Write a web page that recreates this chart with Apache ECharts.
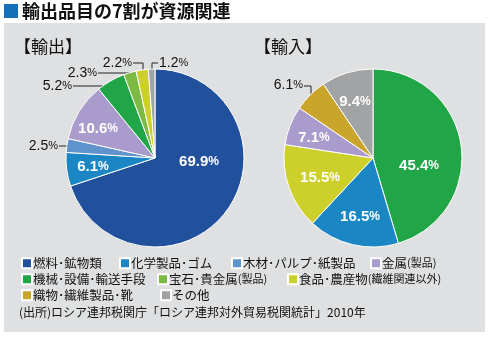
<!DOCTYPE html>
<html><head><meta charset="utf-8">
<script src="https://cdn.jsdelivr.net/npm/echarts@6/dist/echarts.min.js"></script>
<style>html,body{margin:0;padding:0;background:#fff}#c{width:490px;height:339px}</style>
</head><body><div id="c"></div>
<script>
// ---- data ----
const categories = ['燃料･鉱物類','化学製品･ゴム','木材･パルプ･紙製品','金属(製品)','機械･設備･輸送手段','宝石･貴金属(製品)','食品･農産物(繊維関連以外)','織物･繊維製品･靴','その他'];
const exportNames = ['燃料･鉱物類','化学製品･ゴム','木材･パルプ･紙製品','金属(製品)','機械･設備･輸送手段','宝石･貴金属(製品)','食品･農産物(繊維関連以外)','その他'];
const exportValues = [69.9, 6.1, 2.5, 10.6, 5.2, 2.3, 2.2, 1.2];
const importNames = ['機械･設備･輸送手段','化学製品･ゴム','食品･農産物(繊維関連以外)','金属(製品)','織物･繊維製品･靴','その他'];
const importValues = [45.4, 16.5, 15.5, 7.1, 6.1, 9.4];
const titleText = '輸出品目の7割が資源関連';
const exportTitle = '【輸出】';
const importTitle = '【輸入】';
const sourceText = '(出所)ロシア連邦税関庁「ロシア連邦対外貿易税関統計」2010年';

// ---- styles / layout ----
const colors = {
  '燃料･鉱物類':'#21509c','化学製品･ゴム':'#1a87c4','木材･パルプ･紙製品':'#5f93cc','金属(製品)':'#a99bcc',
  '機械･設備･輸送手段':'#20a547','宝石･貴金属(製品)':'#7cba44','食品･農産物(繊維関連以外)':'#cdd02a',
  '織物･繊維製品･靴':'#c9a52b','その他':'#a2a3a4'
};
const JP = '"Noto Sans CJK JP", sans-serif';
const NUM = '"Liberation Sans", Arial, sans-serif';
const exportLabelPos = [
  {x:199,y:162},
  {x:93,y:167},
  {x:58,y:146,align:'right',line:[[59,146],[69,146],[69,146]]},
  {x:98,y:129},
  {x:72,y:86,align:'right',line:[[73,86],[103,86],[103,86]]},
  {x:97,y:73,align:'right',line:[[98,73],[130,73],[130,76]]},
  {x:132,y:63,align:'right',line:[[133,63],[143,63],[143,70]]},
  {x:159,y:63,align:'left',line:[[158,63],[152,63],[152,70]]}
];
const importLabelPos = [
  {x:419,y:166},
  {x:360,y:217},
  {x:320,y:178},
  {x:314,y:138},
  {x:303,y:85,align:'right',line:[[304,86],[311,86],[311,95]]},
  {x:355,y:102}
];
const labelPos = [exportLabelPos, importLabelPos];
const legendPos = [
  [21,257],[119,257],[231,257],[370,257],
  [21,273],[157,273],[287,273],
  [21,289],[160,289]
];

function buildData(names, values, pos) {
  return names.map((n, i) => ({
    name: n, value: values[i],
    itemStyle: {color: colors[n]},
    label: {position: pos[i].line ? 'outside' : 'inside'},
    labelLine: {show: !!pos[i].line}
  }));
}
function pieSeries(names, values, pos, cx, si) {
  return {
    type: 'pie', center: [cx, 158], radius: 89, startAngle: 90, clockwise: true,
    avoidLabelOverlap: false, animation: false,
    itemStyle: {borderColor: '#ffffff', borderWidth: 1},
    emphasis: {disabled: true},
    label: {
      show: true,
      formatter: p => pos[p.dataIndex].line
        ? `{ov|${p.value.toFixed(1)}}{op|%}`
        : `{iv|${p.value.toFixed(1)}}{ip|%}`,
      rich: {
        iv: {fontFamily: NUM, fontWeight: 'bold', fontSize: 15, color: '#fff'},
        ip: {fontFamily: NUM, fontWeight: 'bold', fontSize: 12, color: '#fff'},
        ov: {fontFamily: NUM, fontSize: 14, color: '#111'},
        op: {fontFamily: NUM, fontSize: 11, color: '#111'}
      }
    },
    labelLine: {show: true, length: 5, length2: 5, lineStyle: {color: '#222', width: 1}},
    labelLayout: params => {
      const p = labelPos[si][params.dataIndex];
      const r = {x: p.x, y: p.y, align: p.align || 'center', verticalAlign: 'middle'};
      if (p.line) r.labelLinePoints = p.line;
      return r;
    },
    data: buildData(names, values, pos)
  };
}

const legends = categories.map((c, i) => ({
  data: [c], left: legendPos[i][0], top: legendPos[i][1], padding: 0,
  itemWidth: 10, itemHeight: 10, itemGap: 0, icon: 'rect', selectedMode: false,
  formatter: name => {
    const k = name.indexOf('(');
    return k >= 0 ? `{a|${name.slice(0, k)}}{b|${name.slice(k)}}` : `{a|${name}}`;
  },
  textStyle: {
    color: '#111', fontFamily: JP, fontSize: 12.5, lineHeight: 12, padding: [0, 0, 0, -4],
    rich: {a: {fontFamily: JP, fontSize: 12.5, color: '#111'}, b: {fontFamily: JP, fontSize: 11, color: '#111'}}
  }
}));

const chart = echarts.init(document.getElementById('c'), null, {renderer: 'canvas'});
chart.setOption({
  backgroundColor: '#ffffff',
  animation: false,
  graphic: [
    {type: 'rect', z: -10, shape: {x: 4, y: 23, width: 481, height: 309}, style: {fill: '#dfe0e1'}},
    {type: 'rect', shape: {x: 4, y: 4, width: 14, height: 14}, style: {fill: '#1570b8'}},
    {type: 'text', x: 22, y: 11, style: {text: titleText, font: 'bold 18px ' + JP, fill: '#111', verticalAlign: 'middle'}},
    {type: 'text', x: 14, y: 47, style: {text: exportTitle, font: '17px ' + JP, fill: '#111', verticalAlign: 'middle'}},
    {type: 'text', x: 254, y: 47, style: {text: importTitle, font: '17px ' + JP, fill: '#111', verticalAlign: 'middle'}},
    {type: 'text', x: 19, y: 312, style: {text: sourceText, font: '12px ' + JP, fill: '#111', verticalAlign: 'middle'}}
  ],
  legend: legends,
  series: [
    pieSeries(exportNames, exportValues, exportLabelPos, 155, 0),
    pieSeries(importNames, importValues, importLabelPos, 373, 1)
  ]
});
</script></body></html>
